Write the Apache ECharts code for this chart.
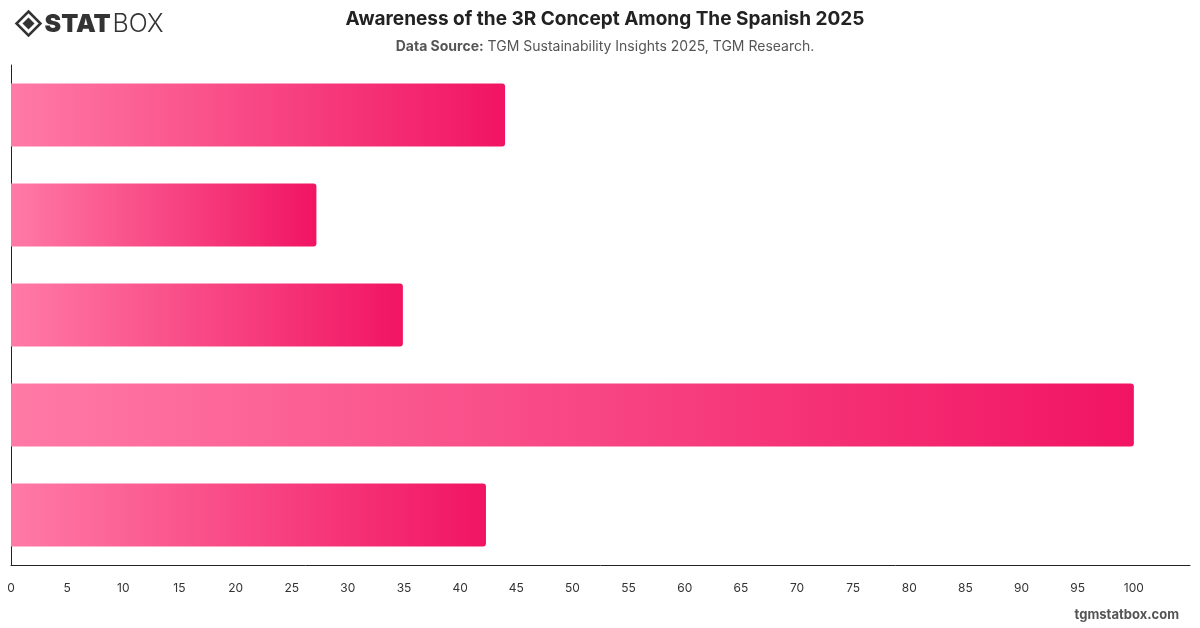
<!DOCTYPE html>
<html>
<head>
<meta charset="utf-8">
<script src="https://cdn.jsdelivr.net/npm/echarts@6/dist/echarts.min.js"></script>
<style>
  html, body { margin: 0; padding: 0; background: #fff; }
  #chart { width: 1200px; height: 628px; }
</style>
</head>
<body>
<div id="chart"></div>
<script>
// category names are not printed on the reference, so the axis labels stay hidden
var categories = ['Category 1', 'Category 2', 'Category 3', 'Category 4', 'Category 5'];
var values = [44, 27.2, 34.9, 100, 42.3];

var myChart = echarts.init(document.getElementById('chart'));

var option = {
  backgroundColor: '#ffffff',
  animation: false,
  title: {
    text: 'Awareness of the 3R Concept Among The Spanish 2025',
    subtext: '{b|Data Source:} TGM Sustainability Insights 2025, TGM Research.',
    left: 600,
    textAlign: 'center',
    top: 5,
    itemGap: 11,
    textStyle: {
      fontFamily: 'Inter, Roboto, sans-serif',
      fontSize: 19,
      fontWeight: 'bold',
      color: '#222'
    },
    subtextStyle: {
      fontFamily: 'Inter, Roboto, sans-serif',
      fontSize: 14,
      color: '#555',
      rich: {
        b: { fontFamily: 'Inter, Roboto, sans-serif', fontSize: 14, fontWeight: 'bold', color: '#555' }
      }
    }
  },
  grid: {
    left: 11,
    right: 10,
    top: 65,
    bottom: 63,
    containLabel: false
  },
  xAxis: {
    type: 'value',
    min: 0,
    max: 105,
    interval: 5,
    splitLine: { show: false },
    axisLine: { show: true, lineStyle: { color: '#222', width: 1 } },
    axisTick: { show: false },
    axisLabel: {
      margin: 17,
      fontFamily: 'Inter, Roboto, sans-serif',
      fontSize: 12,
      color: '#333',
      formatter: function (v) { return v > 100 ? '' : v; }
    }
  },
  yAxis: {
    type: 'category',
    data: categories,
    inverse: true,
    axisLine: { show: true, lineStyle: { color: '#222', width: 1 } },
    axisTick: { show: false },
    axisLabel: { show: false }
  },
  series: [
    {
      type: 'bar',
      data: values,
      barCategoryGap: '37%',
      itemStyle: {
        borderRadius: [0, 3, 3, 0],
        color: new echarts.graphic.LinearGradient(0, 0, 1, 0, [
          { offset: 0, color: '#ff7aa6' },
          { offset: 1, color: '#f11462' }
        ])
      }
    }
  ],
  graphic: [
    // logo
    {
      type: 'group',
      left: 14,
      top: 9,
      children: [
        { type: 'polygon', shape: { points: [[12, 0], [24, 12], [12, 24], [0, 12]] }, style: { fill: 'none', stroke: '#333', lineWidth: 2.5 } },
        { type: 'polygon', shape: { points: [[12, 6], [18, 12], [12, 18], [6, 12]] }, style: { fill: '#333' } },
        { type: 'text', left: 28, top: 0, style: { text: 'STAT', font: '900 25px Inter, Roboto, sans-serif', fill: '#333' } },
        { type: 'text', left: 96, top: 0, style: { text: 'BOX', font: '300 25px Inter, Roboto, sans-serif', fill: '#333' } }
      ]
    },
    {
      type: 'text',
      right: 21,
      top: 609,
      style: {
        text: 'tgmstatbox.com',
        font: 'bold 13px Inter, Roboto, sans-serif',
        fill: '#555'
      }
    }
  ]
};

myChart.setOption(option);
window.onresize = function () { myChart.resize(); };
</script>
</body>
</html>
